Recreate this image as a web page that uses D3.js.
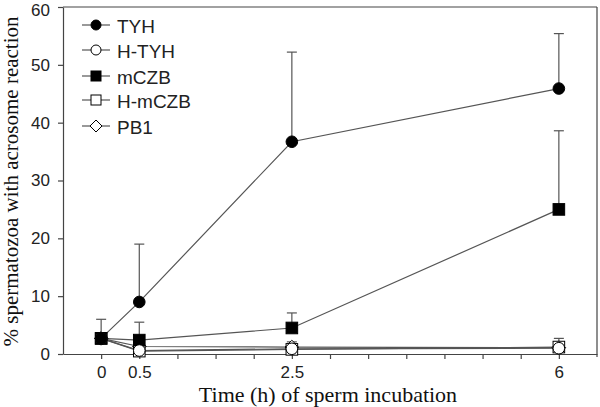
<!DOCTYPE html>
<html><head><meta charset="utf-8">
<script src="https://cdn.jsdelivr.net/npm/d3@7"></script>
<style>body{margin:0;background:#fff}svg{display:block}</style>
</head><body>
<script>
const times = [0, 0.5, 2.5, 6];
const tickLabelTimes = [0, 0.5, 2.5, 6];
const minorTicks = [0,0.5,1,1.5,2,2.5,3,3.5,4,4.5,5,5.5,6];
const yTicks = [0,10,20,30,40,50,60];
const seriesNames = ["TYH","H-TYH","mCZB","H-mCZB","PB1"];
const TYH = [2.7, 9.0, 36.7, 45.9];
const TYH_err = [3.3, 10.0, 15.5, 9.5];
const H_TYH = [2.7, 0.6, 0.9, 1.0];
const H_TYH_err = [0, 0, 0, 0];
const mCZB = [2.7, 2.4, 4.5, 25.0];
const mCZB_err = [0, 3.1, 2.6, 13.6];
const H_mCZB = [2.7, 0.5, 0.8, 1.2];
const H_mCZB_err = [0, 0, 0, 0];
const PB1 = [2.7, 1.3, 1.2, 1.1];
const PB1_err = [0, 0, 0.9, 1.6];

const series = [
  {name:seriesNames[0], values:TYH, err:TYH_err, shape:"circle", fill:"#000"},
  {name:seriesNames[1], values:H_TYH, err:H_TYH_err, shape:"circle", fill:"#fff"},
  {name:seriesNames[2], values:mCZB, err:mCZB_err, shape:"square", fill:"#000"},
  {name:seriesNames[3], values:H_mCZB, err:H_mCZB_err, shape:"square", fill:"#fff"},
  {name:seriesNames[4], values:PB1, err:PB1_err, shape:"diamond", fill:"#fff"}
];

const W=600,H=407;
const L=63,R=597,T=7,B=354;
const svg=d3.select("body").append("svg").attr("width",W).attr("height",H);
const x=d3.scaleLinear().domain([-0.5,6.5]).range([L,R]);
const y=d3.scaleLinear().domain([0,60]).range([B,T]);
const axisColor="#444";
const sans="Liberation Sans, Arial, sans-serif";
const serif="Liberation Serif, Times New Roman, serif";

// frame top/right
svg.append("line").attr("x1",L).attr("x2",R).attr("y1",T).attr("y2",T).attr("stroke",axisColor).attr("stroke-width",1.2);
svg.append("line").attr("x1",R).attr("x2",R).attr("y1",T).attr("y2",B+3).attr("stroke",axisColor).attr("stroke-width",1.2);

// y axis
const ya=svg.append("g").attr("transform",`translate(${L},0)`)
  .call(d3.axisLeft(y).tickValues(yTicks).tickSize(5).tickPadding(8).tickSizeOuter(0));
ya.select(".domain").attr("stroke",axisColor).attr("stroke-width",1.2);
ya.selectAll(".tick line").attr("stroke",axisColor).attr("stroke-width",1.2);
ya.selectAll("text").attr("font-family",sans).attr("font-size",17).attr("fill","#222");
ya.selectAll(".tick").filter(d=>d===60).select("text").attr("dy","0.5em");

// x axis
const xa=svg.append("g").attr("transform",`translate(0,${B})`)
  .call(d3.axisBottom(x).tickValues(minorTicks).tickSize(5).tickPadding(7).tickSizeOuter(0)
    .tickFormat(d=>tickLabelTimes.includes(d)?String(d):""));
xa.select(".domain").attr("stroke",axisColor).attr("stroke-width",1.2);
xa.selectAll(".tick line").attr("stroke",axisColor).attr("stroke-width",1.2);
xa.selectAll("text").attr("font-family",sans).attr("font-size",17).attr("fill","#222");

// titles
svg.append("text").attr("x",328).attr("y",402).attr("text-anchor","middle")
  .attr("font-family",serif).attr("font-size",22).attr("fill","#111")
  .text("Time (h) of sperm incubation");
svg.append("text").attr("transform",`translate(18,${(T+B)/2+1}) rotate(-90)`).attr("text-anchor","middle")
  .attr("font-family",serif).attr("font-size",21).attr("fill","#111")
  .text("% spermatozoa with acrosome reaction");

const line=d3.line().x(d=>x(d[0])).y(d=>y(d[1]));
const lineColor="#555";

function marker(g,shape,fill,cx,cy,sz){
  const r=sz||5.8;
  if(shape==="circle") g.append("circle").attr("cx",cx).attr("cy",cy).attr("r",r).attr("fill",fill).attr("stroke","#000").attr("stroke-width",1);
  else if(shape==="square") g.append("rect").attr("x",cx-r).attr("y",cy-r).attr("width",2*r).attr("height",2*r).attr("fill",fill).attr("stroke","#000").attr("stroke-width",1);
  else { const d=r+1; g.append("path").attr("d",`M${cx},${cy-d}L${cx+d},${cy}L${cx},${cy+d}L${cx-d},${cy}Z`).attr("fill",fill).attr("stroke","#000").attr("stroke-width",1); }
}

// lines & error bars
series.forEach(s=>{
  const pts=times.map((t,i)=>[t,s.values[i]]);
  svg.append("path").attr("d",line(pts)).attr("fill","none").attr("stroke",lineColor).attr("stroke-width",1.2);
  times.forEach((t,i)=>{
    if(s.err[i]>0){
      const cx=x(t), y0=y(s.values[i]), y1=y(s.values[i]+s.err[i]);
      svg.append("line").attr("x1",cx).attr("x2",cx).attr("y1",y0).attr("y2",y1).attr("stroke",lineColor).attr("stroke-width",1.2);
      svg.append("line").attr("x1",cx-5).attr("x2",cx+5).attr("y1",y1).attr("y2",y1).attr("stroke",lineColor).attr("stroke-width",1.2);
    }
  });
});
[...series].reverse().forEach(s=>{
  const g=svg.append("g");
  times.forEach((t,i)=>marker(g,s.shape,s.fill,x(t),y(s.values[i])));
});

// legend
const legY=[25,50,76,100,126];
series.forEach((s,i)=>{
  const g=svg.append("g");
  g.append("line").attr("x1",82).attr("x2",110).attr("y1",legY[i]).attr("y2",legY[i]).attr("stroke",lineColor).attr("stroke-width",1.2);
  marker(g,s.shape,s.fill,96,legY[i],5);
  g.append("text").attr("x",117).attr("y",legY[i]+8).attr("font-family",sans)
    .attr("font-size",19).attr("fill","#222").text(s.name);
});
</script>
</body></html>
